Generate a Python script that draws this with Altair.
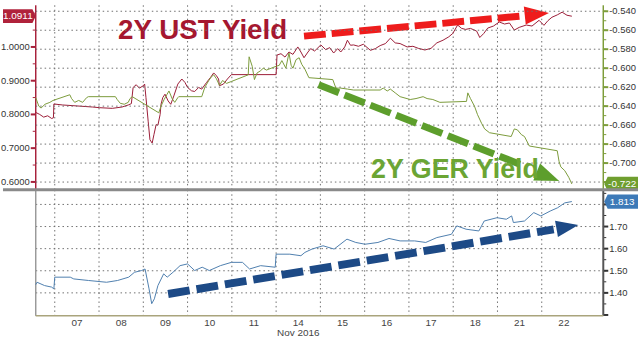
import altair as alt
import pandas as pd

# ---------------- data ----------------
DAY_LABELS = ["07", "08", "09", "10", "11", "14", "15", "16", "17", "18", "21", "22"]

# x = trading-day index (0 = start of Nov 07 session)
UST_T = [-0.43, -0.34, -0.25, -0.16, -0.07, -0.03, -0.02, 0.18, 0.52, 0.85, 1.01, 1.30, 1.52, 1.66, 1.73,
         1.77, 1.84, 1.91, 2.00, 2.03, 2.06, 2.11, 2.15, 2.20, 2.24, 2.29, 2.33, 2.38, 2.40, 2.44, 2.49,
         2.56, 2.62, 2.69, 2.78, 2.87, 2.94, 3.00, 3.09, 3.16, 3.25, 3.32, 3.43, 3.52, 3.59, 3.65, 3.70,
         3.72, 3.81, 3.90, 3.99, 5.00, 5.02, 5.11, 5.20, 5.29, 5.38, 5.49, 5.56, 5.63, 5.72, 5.78, 5.87,
         6.01, 6.12, 6.21, 6.30, 6.39, 6.46, 6.55, 6.61, 6.68, 6.75, 6.86, 6.97, 7.13, 7.24, 7.35, 7.47,
         7.58, 7.69, 7.80, 7.96, 8.09, 8.21, 8.36, 8.50, 8.63, 8.77, 8.90, 8.99, 9.10, 9.19, 9.28, 9.39,
         9.53, 9.60, 9.69, 9.78, 9.91, 10.04, 10.16, 10.27, 10.38, 10.49, 10.65, 10.78, 10.94, 11.05,
         11.14, 11.23, 11.35, 11.46, 11.57, 11.68]
UST_V = [0.806, 0.800, 0.792, 0.796, 0.788, 0.790, 0.831, 0.828, 0.825, 0.822, 0.820, 0.818, 0.822, 0.828, 0.832,
         0.880, 0.888, 0.878, 0.885, 0.890, 0.850, 0.780, 0.725, 0.715, 0.740, 0.770, 0.768, 0.800, 0.830, 0.850, 0.860,
         0.840, 0.830, 0.855, 0.890, 0.905, 0.895, 0.880, 0.870, 0.868, 0.880, 0.875, 0.895, 0.910, 0.923, 0.915, 0.905,
         0.885, 0.890, 0.905, 0.918, 0.918, 0.976, 0.980, 0.970, 0.985, 0.978, 1.000, 0.985, 0.968, 0.985, 0.995, 0.988,
         1.006, 0.992, 0.998, 0.982, 0.995, 0.985, 1.000, 1.020, 1.005, 1.006, 1.002, 1.008, 0.990, 0.995, 1.004, 1.010,
         1.026, 1.012, 1.010, 1.000, 1.002, 0.996, 0.991, 0.996, 1.012, 1.020, 1.030, 1.040, 1.065, 1.055, 1.052, 1.055,
         1.047, 1.028, 1.040, 1.056, 1.062, 1.074, 1.068, 1.071, 1.050, 1.058, 1.065, 1.062, 1.079, 1.064,
         1.078, 1.088, 1.095, 1.103, 1.094, 1.0911]

GER_T = [-0.43, -0.36, -0.31, -0.22, -0.11, -0.04, 0.34, 0.38, 0.45, 0.54, 0.63, 0.72, 0.76,
         1.37, 1.41, 1.48, 1.57, 1.66, 1.70, 1.75, 2.35, 2.40, 2.47, 2.53, 2.58, 2.65, 2.71, 2.78, 2.80,
         3.32, 3.39, 3.48, 3.54, 3.59, 3.65, 3.72, 3.79, 3.88, 3.99, 4.37, 4.39, 4.46, 4.51, 4.57, 4.64, 4.71, 4.78,
         5.00, 5.07, 5.13, 5.22, 5.29, 5.34, 5.38, 5.45, 5.52, 5.58, 5.65, 5.74, 6.28, 6.35, 6.46, 6.61, 6.75,
         7.35, 7.42, 7.51, 7.58, 7.69, 7.80, 8.03, 8.16, 8.32, 8.41, 8.54, 8.70,
         9.30, 9.33, 9.39, 9.48, 9.55, 9.64, 9.71, 9.82, 10.31, 10.38, 10.45, 10.54, 10.61, 10.72,
         11.35, 11.39, 11.43, 11.52, 11.61, 11.68]
GER_V = [-0.631, -0.640, -0.642, -0.638, -0.636, -0.634, -0.628, -0.632, -0.636, -0.634, -0.636, -0.631, -0.630,
         -0.630, -0.633, -0.637, -0.638, -0.636, -0.632, -0.630, -0.647, -0.640, -0.633, -0.628, -0.624, -0.632, -0.636, -0.631, -0.630,
         -0.630, -0.620, -0.613, -0.609, -0.607, -0.611, -0.618, -0.613, -0.616, -0.614, -0.607, -0.588, -0.598, -0.612, -0.605, -0.603, -0.600, -0.602,
         -0.598, -0.597, -0.592, -0.600, -0.584, -0.597, -0.600, -0.591, -0.589, -0.596, -0.601, -0.610, -0.612, -0.621, -0.621, -0.622, -0.623,
         -0.623, -0.621, -0.624, -0.622, -0.626, -0.630, -0.633, -0.632, -0.630, -0.632, -0.633, -0.636,
         -0.635, -0.626, -0.632, -0.640, -0.649, -0.658, -0.664, -0.668, -0.672, -0.664, -0.665, -0.670, -0.672, -0.682,
         -0.687, -0.698, -0.704, -0.708, -0.715, -0.722]

SPR_T = [-0.43, -0.40, -0.23, -0.07, -0.02, 0.00, 0.35, 0.43, 0.76, 1.17, 1.42, 1.67, 1.80, 1.96, 2.04,
         2.13, 2.19, 2.25, 2.33, 2.46, 2.54, 2.67, 2.83, 3.00, 3.16, 3.33, 3.49, 3.74, 3.99, 4.24, 4.40, 4.65, 4.98, 5.00,
         5.31, 5.56, 5.65, 5.81, 6.06, 6.31, 6.60, 6.80, 7.01, 7.30, 7.55, 7.80, 8.13, 8.38, 8.63, 8.96, 9.08, 9.29, 9.58, 9.70,
         9.99, 10.20, 10.32, 10.36, 10.61, 10.82, 10.98, 11.19, 11.36, 11.52, 11.68]
SPR_V = [1.437, 1.448, 1.433, 1.426, 1.418, 1.471, 1.471, 1.463, 1.456, 1.448, 1.456, 1.471, 1.493, 1.501, 1.508,
         1.418, 1.351, 1.373, 1.433, 1.486, 1.471, 1.493, 1.523, 1.531, 1.501, 1.516, 1.501, 1.523, 1.538, 1.538, 1.508, 1.523, 1.516, 1.575,
         1.575, 1.568, 1.583, 1.598, 1.613, 1.598, 1.643, 1.628, 1.620, 1.628, 1.646, 1.635, 1.635, 1.628, 1.650, 1.665, 1.703, 1.688, 1.680, 1.725,
         1.740, 1.733, 1.748, 1.718, 1.725, 1.763, 1.748, 1.770, 1.785, 1.807, 1.813]

# tick / grid positions
X_GRID = list(range(12))                     # session boundaries
X_LABEL_POS = [i + 0.5 for i in range(12)]   # session centres
UST_TICKS = [0.6, 0.65, 0.7, 0.75, 0.8, 0.85, 0.9, 0.95, 1.0, 1.05, 1.1]
UST_LABELS = [0.6, 0.7, 0.8, 0.9, 1.0]
GER_TICKS = [-0.72, -0.71, -0.70, -0.69, -0.68, -0.67, -0.66, -0.65, -0.64, -0.63, -0.62, -0.61,
             -0.60, -0.59, -0.58, -0.57, -0.56, -0.55, -0.54]
GER_GRID = [-0.72, -0.70, -0.68, -0.66, -0.64, -0.62, -0.60, -0.58, -0.56, -0.54]
GER_LABELS = [-0.70, -0.68, -0.66, -0.64, -0.62, -0.60, -0.58, -0.56, -0.54]
SPR_TICKS = [1.30, 1.35, 1.40, 1.45, 1.50, 1.55, 1.60, 1.65, 1.70, 1.75, 1.80, 1.85]
SPR_GRID = [1.40, 1.50, 1.60, 1.70, 1.80]
SPR_LABELS = [1.40, 1.50, 1.60, 1.70]

# annotation anchors (in data units)
RED_ARROW_T, RED_ARROW_V = [5.63, 10.65], [1.032, 1.093]
RED_HEAD_T, RED_HEAD_V = [10.89], [1.097]
GRN_ARROW_T, GRN_ARROW_V = [5.96, 10.67], [-0.6174, -0.7042]
GRN_HEAD_T, GRN_HEAD_V = [11.14], [-0.7142]
BLU_ARROW_T, BLU_ARROW_V = [2.56, 11.27], [1.395, 1.6874]
BLU_HEAD_T, BLU_HEAD_V = [11.58], [1.698]
UST_TITLE = ("2Y UST Yield", 3.34, 1.047)
GER_TITLE = ("2Y GER Yield", 9.04, -0.7074)

# ---------------- styling ----------------
FONT = "Liberation Sans"
W, H_TOP, H_BOT = 572, 186, 127
X_DOMAIN = [-0.43, 12.39]
UST_DOMAIN = [0.5765, 1.1235]
GER_DOMAIN = [-0.7282, -0.5337]
SPR_DOMAIN = [1.296, 1.866]

UST_LINE, UST_AX, UST_BOX, UST_TXT, RED_ARR = "#9b1d37", "#a8223c", "#b0223b", "#a5172f", "#ee1c1c"
GER_LINE, GER_AX, GER_BOX, GER_TXT, GRN_ARR = "#7c9b3b", "#7d9d3a", "#6f9e2e", "#6ba534", "#5d9e2c"
SPR_LINE, SPR_BOX, BLU_ARR = "#4f7fae", "#3d7ab8", "#1d4a86"
GRID = "#707070"
GRID_DASH = [1.5, 3]

BOX_R = "M-1,-0.42L0.8,-0.42L1,0L0.8,0.42L-1,0.42Z"
BOX_L = "M-1,0L-0.8,-0.42L1,-0.42L1,0.42L-0.8,0.42Z"
HEAD = "M1,0L-1,-0.75L-1,0.75Z"

xscale = alt.Scale(domain=X_DOMAIN, nice=False, zero=False)
ust_scale = alt.Scale(domain=UST_DOMAIN, nice=False, zero=False)
ger_scale = alt.Scale(domain=GER_DOMAIN, nice=False, zero=False)
spr_scale = alt.Scale(domain=SPR_DOMAIN, nice=False, zero=False)

NOAX = None


def X(field="t"):
    return alt.X(f"{field}:Q", scale=xscale, axis=NOAX)


def Y(scale, field="v"):
    return alt.Y(f"{field}:Q", scale=scale, axis=NOAX)


def df(t, v):
    return pd.DataFrame({"t": t, "v": v})


def vgrid(h):
    """vertical dotted session gridlines"""
    return alt.Chart(pd.DataFrame({"t": X_GRID})).mark_rule(
        color=GRID, strokeWidth=1, strokeDash=GRID_DASH).encode(x=X(), y=alt.value(0), y2=alt.value(h))


def hgrid(vals, scale):
    return alt.Chart(pd.DataFrame({"v": vals})).mark_rule(
        color=GRID, strokeWidth=1, strokeDash=GRID_DASH).encode(y=Y(scale), x=alt.value(0), x2=alt.value(W))


def yticks(vals, scale, xpos, x2pos, color, width):
    return alt.Chart(pd.DataFrame({"v": vals})).mark_rule(color=color, strokeWidth=width).encode(
        y=Y(scale), x=alt.value(xpos), x2=alt.value(x2pos))


def ylabels(vals, scale, xpos, align, fmt):
    d = pd.DataFrame({"v": vals, "s": [fmt(v) for v in vals]})
    return alt.Chart(d).mark_text(font=FONT, fontSize=9.5, color="#333333", align=align,
                                  baseline="middle").encode(y=Y(scale), x=alt.value(xpos), text="s:N")


def yaxis_line(xpos, color, width, h):
    return alt.Chart(pd.DataFrame({"v": [0]})).mark_rule(color=color, strokeWidth=width).encode(
        x=alt.value(xpos), y=alt.value(0), y2=alt.value(h))


# ---------------- top panel: UST (left scale) ----------------
ust_line = alt.Chart(df(UST_T, UST_V)).mark_line(color=UST_LINE, strokeWidth=1).encode(
    x=X(), y=Y(ust_scale))
red_dash = alt.Chart(df(RED_ARROW_T, RED_ARROW_V)).mark_line(
    color=RED_ARR, strokeWidth=7, strokeDash=[22, 6], strokeCap="butt").encode(x=X(), y=Y(ust_scale))
red_head = alt.Chart(df(RED_HEAD_T, RED_HEAD_V)).mark_point(
    shape=HEAD, size=600, filled=True, color=RED_ARR, opacity=1, angle=354).encode(x=X(), y=Y(ust_scale))
ust_title = alt.Chart(pd.DataFrame({"t": [UST_TITLE[1]], "v": [UST_TITLE[2]], "s": [UST_TITLE[0]]})).mark_text(
    font=FONT, fontSize=28, fontWeight="bold", color=UST_TXT, align="center", baseline="middle").encode(
    x=X(), y=Y(ust_scale), text="s:N")
ust_last = pd.DataFrame({"v": [UST_V[-1]], "s": [f"{UST_V[-1]:.4f}"]})
ust_box = alt.Chart(ust_last).mark_point(shape=BOX_R, size=33 ** 2, filled=True, color=UST_BOX,
                                         opacity=1).encode(x=alt.value(-16.5), y=Y(ust_scale))
ust_box_txt = alt.Chart(ust_last).mark_text(font=FONT, fontSize=10, color="white", align="center",
                                            baseline="middle").encode(x=alt.value(-18), y=Y(ust_scale), text="s:N")
ust_layer = alt.layer(
    vgrid(H_TOP),
    yticks(UST_TICKS, ust_scale, -3, 0, UST_AX, 1),
    yticks(UST_LABELS, ust_scale, -5, 0, UST_AX, 2),
    ylabels(UST_LABELS, ust_scale, -6, "right", lambda v: f"{v:.4f}"),
    yaxis_line(0, UST_AX, 1.5, H_TOP),
    ust_line, red_dash, red_head, ust_title, ust_box, ust_box_txt)

# ---------------- top panel: GER (right scale) ----------------
ger_line = alt.Chart(df(GER_T, GER_V)).mark_line(color=GER_LINE, strokeWidth=1).encode(
    x=X(), y=Y(ger_scale))
grn_dash = alt.Chart(df(GRN_ARROW_T, GRN_ARROW_V)).mark_line(
    color=GRN_ARR, strokeWidth=7, strokeDash=[22, 6], strokeCap="butt").encode(x=X(), y=Y(ger_scale))
grn_head = alt.Chart(df(GRN_HEAD_T, GRN_HEAD_V)).mark_point(
    shape=HEAD, size=600, filled=True, color=GRN_ARR, opacity=1, angle=22).encode(x=X(), y=Y(ger_scale))
ger_title = alt.Chart(pd.DataFrame({"t": [GER_TITLE[1]], "v": [GER_TITLE[2]], "s": [GER_TITLE[0]]})).mark_text(
    font=FONT, fontSize=27, fontWeight="bold", color=GER_TXT, align="center", baseline="middle").encode(
    x=X(), y=Y(ger_scale), text="s:N")
ger_last = pd.DataFrame({"v": [GER_V[-1]], "s": [f"{GER_V[-1]:.3f}"]})
ger_box = alt.Chart(ger_last).mark_point(shape=BOX_L, size=34 ** 2, filled=True, color=GER_BOX,
                                         opacity=1).encode(x=alt.value(590), y=Y(ger_scale))
ger_box_txt = alt.Chart(ger_last).mark_text(font=FONT, fontSize=10, color="white", align="center",
                                            baseline="middle").encode(x=alt.value(591), y=Y(ger_scale), text="s:N")
ger_layer = alt.layer(
    hgrid(GER_GRID, ger_scale),
    yticks(GER_TICKS, ger_scale, W, W + 3, GER_AX, 1),
    yticks(GER_GRID, ger_scale, W, W + 5, GER_AX, 2),
    ylabels(GER_LABELS, ger_scale, W + 6, "left", lambda v: f"{v:.3f}"),
    yaxis_line(W, GER_AX, 1.5, H_TOP),
    ger_line, grn_dash, grn_head, ger_title, ger_box, ger_box_txt)

top = alt.layer(ust_layer, ger_layer).resolve_scale(y="independent").properties(
    width=W, height=H_TOP, view=alt.ViewBackground(strokeOpacity=0))

# ---------------- bottom panel: spread ----------------
spr_line = alt.Chart(df(SPR_T, SPR_V)).mark_line(color=SPR_LINE, strokeWidth=1).encode(
    x=X(), y=Y(spr_scale))
blu_dash = alt.Chart(df(BLU_ARROW_T, BLU_ARROW_V)).mark_line(
    color=BLU_ARR, strokeWidth=8, strokeDash=[22, 7], strokeCap="butt").encode(x=X(), y=Y(spr_scale))
blu_head = alt.Chart(df(BLU_HEAD_T, BLU_HEAD_V)).mark_point(
    shape=HEAD, size=500, filled=True, color=BLU_ARR, opacity=1, angle=350).encode(x=X(), y=Y(spr_scale))
spr_last = pd.DataFrame({"v": [SPR_V[-1]], "s": [f"{SPR_V[-1]:.3f}"]})
spr_box = alt.Chart(spr_last).mark_point(shape=BOX_L, size=34 ** 2, filled=True, color=SPR_BOX,
                                         opacity=1).encode(x=alt.value(590), y=Y(spr_scale))
spr_box_txt = alt.Chart(spr_last).mark_text(font=FONT, fontSize=10, color="white", align="center",
                                            baseline="middle").encode(x=alt.value(591), y=Y(spr_scale), text="s:N")
separator = alt.Chart(spr_last).mark_rule(color="#8a8a8a", strokeWidth=3).encode(
    x=alt.value(-33), x2=alt.value(607), y=alt.value(0))
x_labels = alt.Chart(pd.DataFrame({"t": X_LABEL_POS, "s": DAY_LABELS})).mark_text(
    font=FONT, fontSize=10, color="#444444", align="center", baseline="top").encode(
    x=X(), y=alt.value(H_BOT + 2), text="s:N")
x_title = alt.Chart(pd.DataFrame({"t": [5.5], "s": ["Nov 2016"]})).mark_text(
    font=FONT, fontSize=10, color="#444444", align="center", baseline="top").encode(
    x=X(), y=alt.value(H_BOT + 12), text="s:N")
bottom_axis = alt.Chart(pd.DataFrame({"v": [0]})).mark_rule(color="#a9a47c", strokeWidth=1.5).encode(
    x=alt.value(0), x2=alt.value(W), y=alt.value(H_BOT))

bottom = alt.layer(
    vgrid(H_BOT),
    hgrid(SPR_GRID, spr_scale),
    yticks(SPR_TICKS, spr_scale, W, W + 3, "#333333", 1),
    yticks([1.30] + SPR_GRID, spr_scale, W, W + 5, "#333333", 2),
    ylabels(SPR_LABELS, spr_scale, W + 6, "left", lambda v: f"{v:.2f}"),
    yaxis_line(0, "#9a9a9a", 1.5, H_BOT),
    yaxis_line(W, "#555555", 2, H_BOT),
    bottom_axis,
    spr_line, blu_dash, blu_head, spr_box, spr_box_txt, separator, x_labels, x_title
).properties(width=W, height=H_BOT, view=alt.ViewBackground(strokeOpacity=0))

chart = alt.vconcat(top, bottom, spacing=0, bounds="flush").properties(
    padding=0, background="white")

chart.save("out.html", embed_options={"renderer": "svg", "actions": False})
